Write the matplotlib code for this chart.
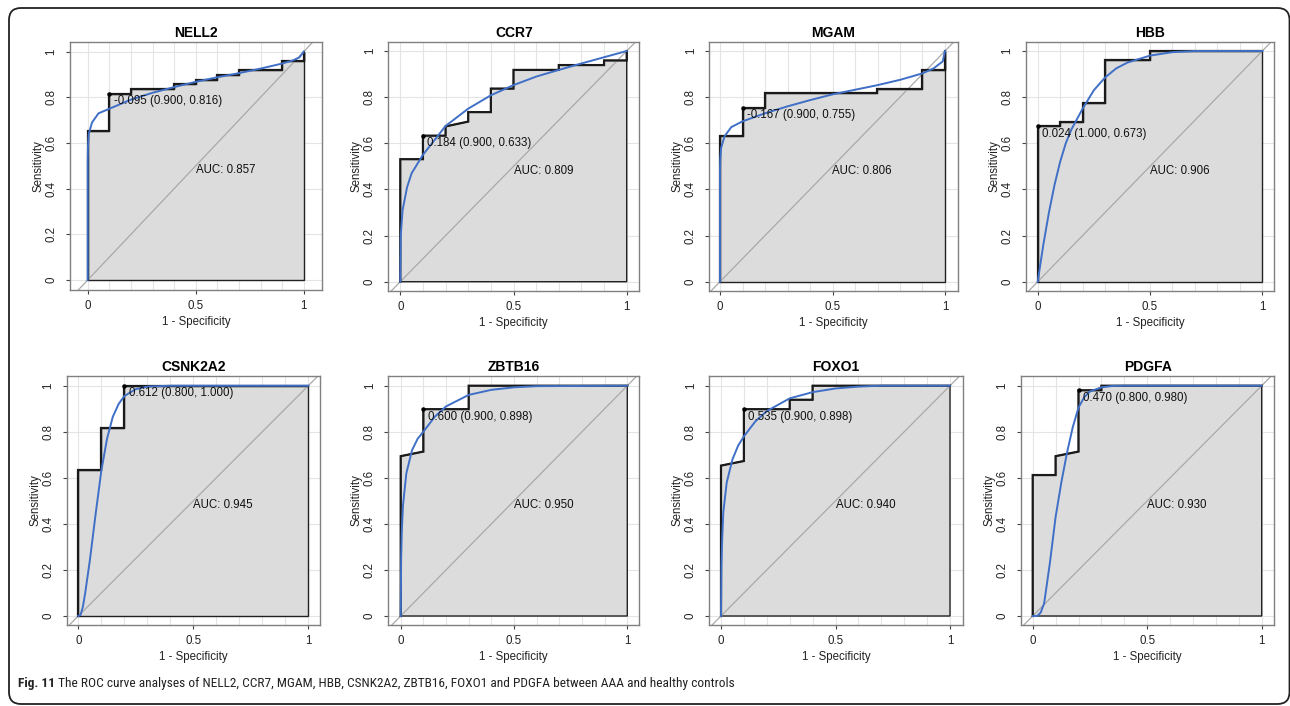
import numpy as np
import matplotlib
matplotlib.use("Agg")
import matplotlib.pyplot as plt
from matplotlib.patches import FancyBboxPatch, Polygon

# ---------------- data ----------------
genes = ["NELL2", "CCR7", "MGAM", "HBB", "CSNK2A2", "ZBTB16", "FOXO1", "PDGFA"]
auc_values = [0.857, 0.809, 0.806, 0.906, 0.945, 0.950, 0.940, 0.930]
thresholds = ["-0.095", "0.184", "-0.167", "0.024", "0.612", "0.600", "0.535", "0.470"]
best_spec = [0.900, 0.900, 0.900, 1.000, 0.800, 0.900, 0.900, 0.800]
best_sens = [0.816, 0.633, 0.755, 0.673, 1.000, 0.898, 0.898, 0.980]

# empirical ROC (x = 1 - specificity, y = sensitivity)
nell2_fpr = [0, 0, 0.1, 0.1, 0.2, 0.2, 0.4, 0.4, 0.5, 0.5, 0.6, 0.6, 0.7, 0.7, 0.9, 0.9, 1.0, 1.0]
nell2_tpr = [0, 0.653, 0.653, 0.816, 0.816, 0.837, 0.837, 0.857, 0.857, 0.878, 0.878, 0.898, 0.898, 0.918, 0.918, 0.959, 0.959, 1.0]
ccr7_fpr = [0, 0, 0.1, 0.1, 0.2, 0.2, 0.3, 0.3, 0.4, 0.4, 0.5, 0.5, 0.7, 0.7, 0.9, 0.9, 1.0, 1.0]
ccr7_tpr = [0, 0.531, 0.531, 0.633, 0.633, 0.673, 0.694, 0.735, 0.735, 0.837, 0.837, 0.918, 0.918, 0.939, 0.939, 0.959, 0.959, 1.0]
mgam_fpr = [0, 0, 0.1, 0.1, 0.2, 0.2, 0.7, 0.7, 0.9, 0.9, 1.0, 1.0]
mgam_tpr = [0, 0.633, 0.633, 0.755, 0.755, 0.816, 0.816, 0.837, 0.837, 0.918, 0.918, 1.0]
hbb_fpr = [0, 0, 0.1, 0.1, 0.2, 0.2, 0.3, 0.3, 0.5, 0.5, 1.0]
hbb_tpr = [0, 0.673, 0.673, 0.694, 0.694, 0.776, 0.776, 0.959, 0.959, 1.0, 1.0]
csnk2a2_fpr = [0, 0, 0.1, 0.1, 0.2, 0.2, 1.0]
csnk2a2_tpr = [0, 0.633, 0.633, 0.816, 0.816, 1.0, 1.0]
zbtb16_fpr = [0, 0, 0.1, 0.1, 0.3, 0.3, 1.0]
zbtb16_tpr = [0, 0.694, 0.714, 0.898, 0.898, 1.0, 1.0]
foxo1_fpr = [0, 0, 0.1, 0.1, 0.3, 0.3, 0.4, 0.4, 1.0]
foxo1_tpr = [0, 0.653, 0.673, 0.898, 0.898, 0.939, 0.939, 1.0, 1.0]
pdgfa_fpr = [0, 0, 0.1, 0.1, 0.2, 0.2, 0.3, 0.3, 1.0]
pdgfa_tpr = [0, 0.612, 0.612, 0.694, 0.714, 0.980, 0.980, 1.0, 1.0]

# smoothed ROC
nell2_sm_x = [0, 0, 0.001, 0.005, 0.02, 0.05, 0.1, 0.2, 0.3, 0.4, 0.5, 0.6, 0.7, 0.8, 0.9, 0.95, 0.98, 1.0]
nell2_sm_y = [0, 0.52, 0.58, 0.64, 0.69, 0.73, 0.75, 0.79, 0.82, 0.845, 0.868, 0.888, 0.906, 0.926, 0.948, 0.962, 0.975, 1.0]
ccr7_sm_x = [0, 0.002, 0.01, 0.03, 0.05, 0.1, 0.2, 0.3, 0.4, 0.5, 0.6, 0.7, 0.8, 0.9, 1.0]
ccr7_sm_y = [0, 0.2, 0.31, 0.41, 0.47, 0.55, 0.675, 0.75, 0.808, 0.852, 0.889, 0.918, 0.946, 0.973, 1.0]
mgam_sm_x = [0, 0, 0.001, 0.005, 0.02, 0.05, 0.1, 0.2, 0.3, 0.4, 0.5, 0.6, 0.7, 0.8, 0.9, 0.95, 0.99, 1.0]
mgam_sm_y = [0, 0.48, 0.53, 0.58, 0.63, 0.67, 0.695, 0.73, 0.76, 0.787, 0.812, 0.832, 0.852, 0.875, 0.903, 0.925, 0.955, 1.0]
hbb_sm_x = [0, 0.025, 0.05, 0.075, 0.1, 0.125, 0.15, 0.2, 0.25, 0.3, 0.35, 0.4, 0.5, 0.6, 0.7, 1.0]
hbb_sm_y = [0, 0.16, 0.30, 0.42, 0.52, 0.60, 0.66, 0.75, 0.83, 0.885, 0.925, 0.95, 0.98, 0.995, 1.0, 1.0]
csnk2a2_sm_x = [0, 0.01, 0.02, 0.03, 0.05, 0.075, 0.1, 0.125, 0.15, 0.175, 0.2, 0.25, 0.3, 0.4, 1.0]
csnk2a2_sm_y = [0, 0.005, 0.04, 0.1, 0.24, 0.44, 0.63, 0.77, 0.865, 0.92, 0.955, 0.985, 0.996, 1.0, 1.0]
zbtb16_sm_x = [0, 0.002, 0.005, 0.01, 0.025, 0.05, 0.075, 0.1, 0.15, 0.2, 0.3, 0.4, 0.5, 0.6, 1.0]
zbtb16_sm_y = [0, 0.25, 0.37, 0.48, 0.62, 0.72, 0.77, 0.80, 0.865, 0.91, 0.96, 0.982, 0.993, 0.998, 1.0]
foxo1_sm_x = [0, 0.002, 0.005, 0.01, 0.025, 0.05, 0.075, 0.1, 0.15, 0.2, 0.3, 0.4, 0.5, 0.6, 0.7, 1.0]
foxo1_sm_y = [0, 0.22, 0.33, 0.45, 0.58, 0.68, 0.74, 0.78, 0.845, 0.89, 0.945, 0.972, 0.988, 0.996, 1.0, 1.0]
pdgfa_sm_x = [0, 0.02, 0.035, 0.05, 0.075, 0.1, 0.125, 0.15, 0.175, 0.2, 0.225, 0.25, 0.3, 0.35, 0.4, 1.0]
pdgfa_sm_y = [0, 0.0, 0.015, 0.055, 0.23, 0.43, 0.58, 0.71, 0.82, 0.905, 0.95, 0.975, 0.993, 0.999, 1.0, 1.0]

emp_x = [nell2_fpr, ccr7_fpr, mgam_fpr, hbb_fpr, csnk2a2_fpr, zbtb16_fpr, foxo1_fpr, pdgfa_fpr]
emp_y = [nell2_tpr, ccr7_tpr, mgam_tpr, hbb_tpr, csnk2a2_tpr, zbtb16_tpr, foxo1_tpr, pdgfa_tpr]
sm_x = [nell2_sm_x, ccr7_sm_x, mgam_sm_x, hbb_sm_x, csnk2a2_sm_x, zbtb16_sm_x, foxo1_sm_x, pdgfa_sm_x]
sm_y = [nell2_sm_y, ccr7_sm_y, mgam_sm_y, hbb_sm_y, csnk2a2_sm_y, zbtb16_sm_y, foxo1_sm_y, pdgfa_sm_y]

caption_bold = "Fig. 11"
caption_rest = (" The ROC curve analyses of NELL2, CCR7, MGAM, HBB, CSNK2A2, ZBTB16, FOXO1 and PDGFA "
                "between AAA and healthy controls")

# ---------------- layout (pixels) ----------------
W, H = 1290, 706
# box left, right, top, bottom ; pixel of x=0, x=1 ; pixel of y=1, y=0
geom = [
    (70.0, 322.0, 42.0, 290.0, 87.7, 303.7, 51.7, 280.0),
    (388.3, 639.3, 41.7, 291.0, 400.3, 626.7, 51.0, 281.7),
    (709.3, 957.7, 41.7, 291.0, 720.0, 945.0, 51.0, 281.7),
    (1025.7, 1274.3, 41.7, 291.0, 1037.7, 1262.3, 51.0, 281.7),
    (66.7, 320.0, 376.0, 625.0, 78.3, 308.3, 385.7, 616.0),
    (388.3, 639.0, 376.0, 625.0, 400.7, 627.3, 385.7, 616.0),
    (709.3, 962.7, 376.0, 625.0, 721.0, 950.0, 385.7, 616.0),
    (1021.0, 1274.3, 376.0, 625.0, 1032.7, 1261.7, 385.7, 616.0),
]

FONT = ["Liberation Sans", "DejaVu Sans"]
plt.rcParams["font.family"] = FONT
BASE = 8.3
BLUE = "#3f6fc6"

fig = plt.figure(figsize=(W / 100, H / 100), dpi=100)

for i, g in enumerate(genes):
    L, R, T, B, x0, x1, y1, y0 = geom[i]
    ax = fig.add_axes([L / W, 1 - B / H, (R - L) / W, (B - T) / H])
    xs = x1 - x0
    ys = y0 - y1
    ax.set_xlim(-(x0 - L) / xs, 1 + (R - x1) / xs)
    ax.set_ylim(-(B - y0) / ys, 1 + (y1 - T) / ys)

    # grid
    for gx in np.linspace(0, 1, 11):
        ax.axvline(gx, color="#e4e4e4", lw=0.8, zorder=0)
    for gy in np.linspace(0, 1, 6):
        ax.axhline(gy, color="#e4e4e4", lw=0.8, zorder=0)

    # AUC polygon
    px = list(emp_x[i]) + [1.0, 0.0]
    py = list(emp_y[i]) + [0.0, 0.0]
    poly = Polygon(np.column_stack([px, py]), closed=True, facecolor="#dcdcdc",
                   edgecolor="#222222", lw=1.0, zorder=1)
    ax.add_patch(poly)

    # diagonal
    ax.plot([-0.5, 1.5], [-0.5, 1.5], color="#a9a9a9", lw=0.9, zorder=2)

    # empirical curve
    ax.plot(emp_x[i], emp_y[i], color="#1a1a1a", lw=1.6, zorder=3, solid_joinstyle="miter")
    # smoothed curve
    ax.plot(sm_x[i], sm_y[i], color=BLUE, lw=1.4, zorder=4)

    # best threshold
    bx = 1 - best_spec[i]
    by = best_sens[i]
    ax.plot([bx], [by], "o", color="black", ms=2.2, zorder=5)
    ax.text(bx + 0.02, by - 0.033,
            f"{thresholds[i]} ({best_spec[i]:.3f}, {best_sens[i]:.3f})",
            fontsize=BASE, ha="left", va="center", color="#111111", zorder=6)
    ax.text(0.5, 0.48, f"AUC: {auc_values[i]:.3f}", fontsize=BASE,
            ha="left", va="center", color="#111111", zorder=6)

    ax.set_title(g, fontsize=10, fontweight="bold", pad=3.5)
    ax.set_xticks([0, 0.5, 1])
    ax.set_xticklabels(["0", "0.5", "1"])
    ax.set_yticks([0, 0.2, 0.4, 0.6, 0.8, 1.0])
    ax.set_yticklabels(["0", "0.2", "0.4", "0.6", "0.8", "1"], rotation=90, va="center")
    ax.tick_params(axis="both", direction="out", length=3, width=0.8,
                   color="#444444", labelsize=BASE, labelcolor="#222222")
    ax.tick_params(axis="x", pad=4.0)
    ax.tick_params(axis="y", pad=6.0)
    for sp in ax.spines.values():
        sp.set_color("#808080")
        sp.set_linewidth(1.0)
    ax.set_xlabel("1 - Specificity", fontsize=BASE, color="#222222")
    ax.set_ylabel("Sensitivity", fontsize=BASE, color="#222222")
    ax.xaxis.set_label_coords(0.5, -(31.7) / (B - T))
    ax.xaxis.label.set_va("center")
    ax.yaxis.set_label_coords(-(31.5) / (R - L), 0.5)
    ax.yaxis.label.set_va("center")
    ax.set_facecolor("white")

# outer frame (display pixel coordinates)
frame = FancyBboxPatch((9, 2), 1289.5 - 9, 698 - 2,
                       boxstyle="round,pad=0,rounding_size=12",
                       transform=None, facecolor="none", edgecolor="#222222", lw=1.3)
fig.patches.append(frame)

# caption
cap_font = ["Roboto Condensed", "Roboto", "DejaVu Sans"]
t1 = fig.text(18 / W, 1 - 684 / H, caption_bold, fontsize=9.6, fontweight="bold",
              family=cap_font, fontstretch="condensed", ha="left", va="center", color="#222222")
fig.canvas.draw()
bb = t1.get_window_extent()
fig.text((bb.x1) / W, 1 - 684 / H, caption_rest, fontsize=9.6,
         family=cap_font, fontstretch="condensed", ha="left", va="center", color="#222222")

fig.savefig("out.png", dpi=100)
